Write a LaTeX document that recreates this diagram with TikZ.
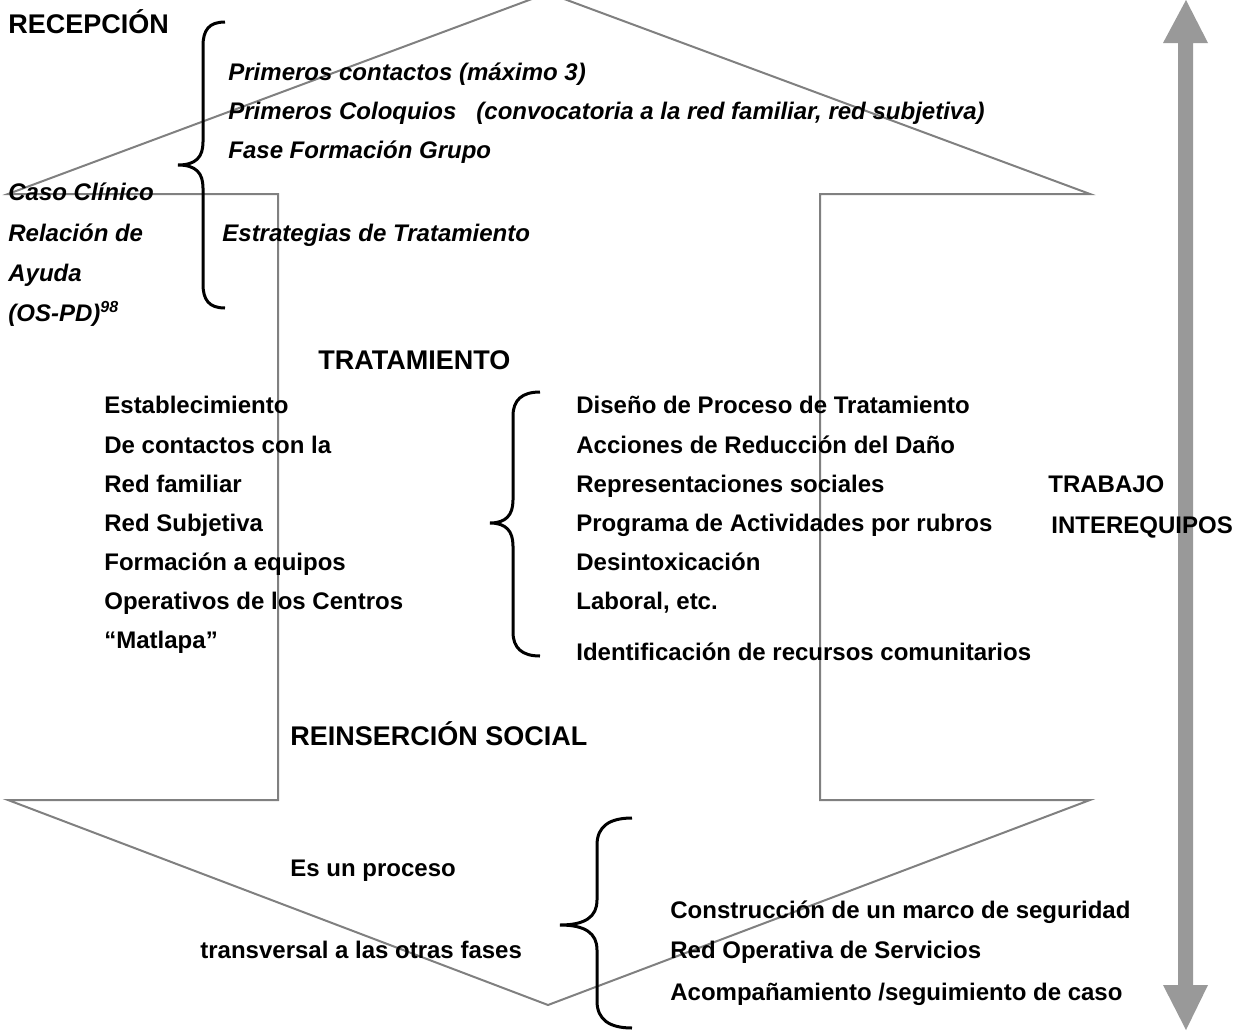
\documentclass[tikz,border=0pt]{standalone}
\usepackage{fontspec}
\setmainfont{Liberation Sans}
\definecolor{linegray}{RGB}{128,128,128}
\definecolor{arrowgray}{RGB}{153,153,153}
\tikzset{
  txt/.style={anchor=base west, inner sep=0pt, font=\fontsize{12}{14.4}\selectfont\bfseries},
  itxt/.style={txt, font=\fontsize{12}{14.4}\selectfont\bfseries\itshape},
  head/.style={txt, font=\fontsize{13.5}{16}\selectfont\bfseries},
  outline/.style={linegray, line width=1pt, line join=miter},
  curly/.style={black, line width=1.5pt},
}
\begin{document}
\begin{tikzpicture}[x=0.5pt, y=-0.5pt]
    \useasboundingbox (0,0) rectangle (1239,1034);

    % Double arrow outline
    \draw[outline] (8,194) -- (278,194) -- (278,800) -- (8,800) -- (548,1005)
        -- (1090,800) -- (820,800) -- (820,194) -- (1090,194) -- (548,-7) -- cycle;

    % Side arrow
    \fill[arrowgray] (1186,0) -- (1208,43) -- (1193,43) -- (1193,985) -- (1208,985)
        -- (1186,1030) -- (1163,985) -- (1178,985) -- (1178,43) -- (1163,43) -- cycle;

    % Braces
    \draw[curly] (225,22) .. controls (209,22) and (203,30) .. (203,46) -- (203,142)
        .. controls (203,157) and (196,165) .. (178,165)
        .. controls (196,165) and (203,173) .. (203,188) -- (203,284)
        .. controls (203,300) and (209,308) .. (225,308);
    \draw[curly] (540,392) .. controls (522,392) and (513,400) .. (513,416) -- (513,500)
        .. controls (513,515) and (506,523) .. (490,523)
        .. controls (506,523) and (513,531) .. (513,546) -- (513,632)
        .. controls (513,648) and (522,656) .. (540,656);
    \draw[curly] (632,818) .. controls (610,818) and (597,826) .. (597,845) -- (597,900)
        .. controls (597,917) and (585,925) .. (560,925)
        .. controls (585,925) and (597,933) .. (597,950) -- (597,1001)
        .. controls (597,1020) and (610,1028) .. (632,1028);

    % Recepcion
    \node[head] (rec) at (8,33) {RECEPCIÓN};
    \node[itxt] (pc) at (228,80) {Primeros contactos (máximo 3)};
    \node[itxt] (pcol) at (228,119) {Primeros Coloquios\ \ \ (convocatoria a la red familiar, red subjetiva)};
    \node[itxt] (ffg) at (228,158) {Fase Formación Grupo};
    \node[itxt] (caso) at (8,200) {Caso Clínico};
    \node[itxt] (rel) at (8,241) {Relación de};
    \node[itxt] (ayu) at (8,281) {Ayuda};
    \node[itxt] (ospd) at (8,321) {(OS-PD)\textsuperscript{98}};
    \node[itxt] (estr) at (222,241) {Estrategias de Tratamiento};

    % Tratamiento
    \node[head] (trat) at (318,369) {TRATAMIENTO};
    \node[txt] (l1) at (104,413) {Establecimiento};
    \node[txt] (l2) at (104,453) {De contactos con la};
    \node[txt] (l3) at (104,492) {Red familiar};
    \node[txt] (l4) at (104,531) {Red Subjetiva};
    \node[txt] (l5) at (104,570) {Formación a equipos};
    \node[txt] (l6) at (104,609) {Operativos de los Centros};
    \node[txt] (l7) at (104,648) {“Matlapa”};
    \node[txt] (r1) at (576,413) {Diseño de Proceso de Tratamiento};
    \node[txt] (r2) at (576,453) {Acciones de Reducción del Daño};
    \node[txt] (r3) at (576,492) {Representaciones sociales};
    \node[txt] (r4) at (576,531) {Programa de Actividades por rubros};
    \node[txt] (r5) at (576,570) {Desintoxicación};
    \node[txt] (r6) at (576,609) {Laboral, etc.};
    \node[txt] (r7) at (576,660) {Identificación de recursos comunitarios};
    \node[txt] (trab) at (1048,492) {TRABAJO};
    \node[txt] (inter) at (1051,533) {INTEREQUIPOS};

    % Reinsercion
    \node[head] (reins) at (290,745) {REINSERCIÓN SOCIAL};
    \node[txt] (proc) at (290,876) {Es un proceso};
    \node[txt] (transv) at (200,958) {transversal a las otras fases};
    \node[txt] (b1) at (670,918) {Construcción de un marco de seguridad};
    \node[txt] (b2) at (670,958) {Red Operativa de Servicios};
    \node[txt] (b3) at (670,1000) {Acompañamiento /seguimiento de caso};
\end{tikzpicture}
\end{document}
